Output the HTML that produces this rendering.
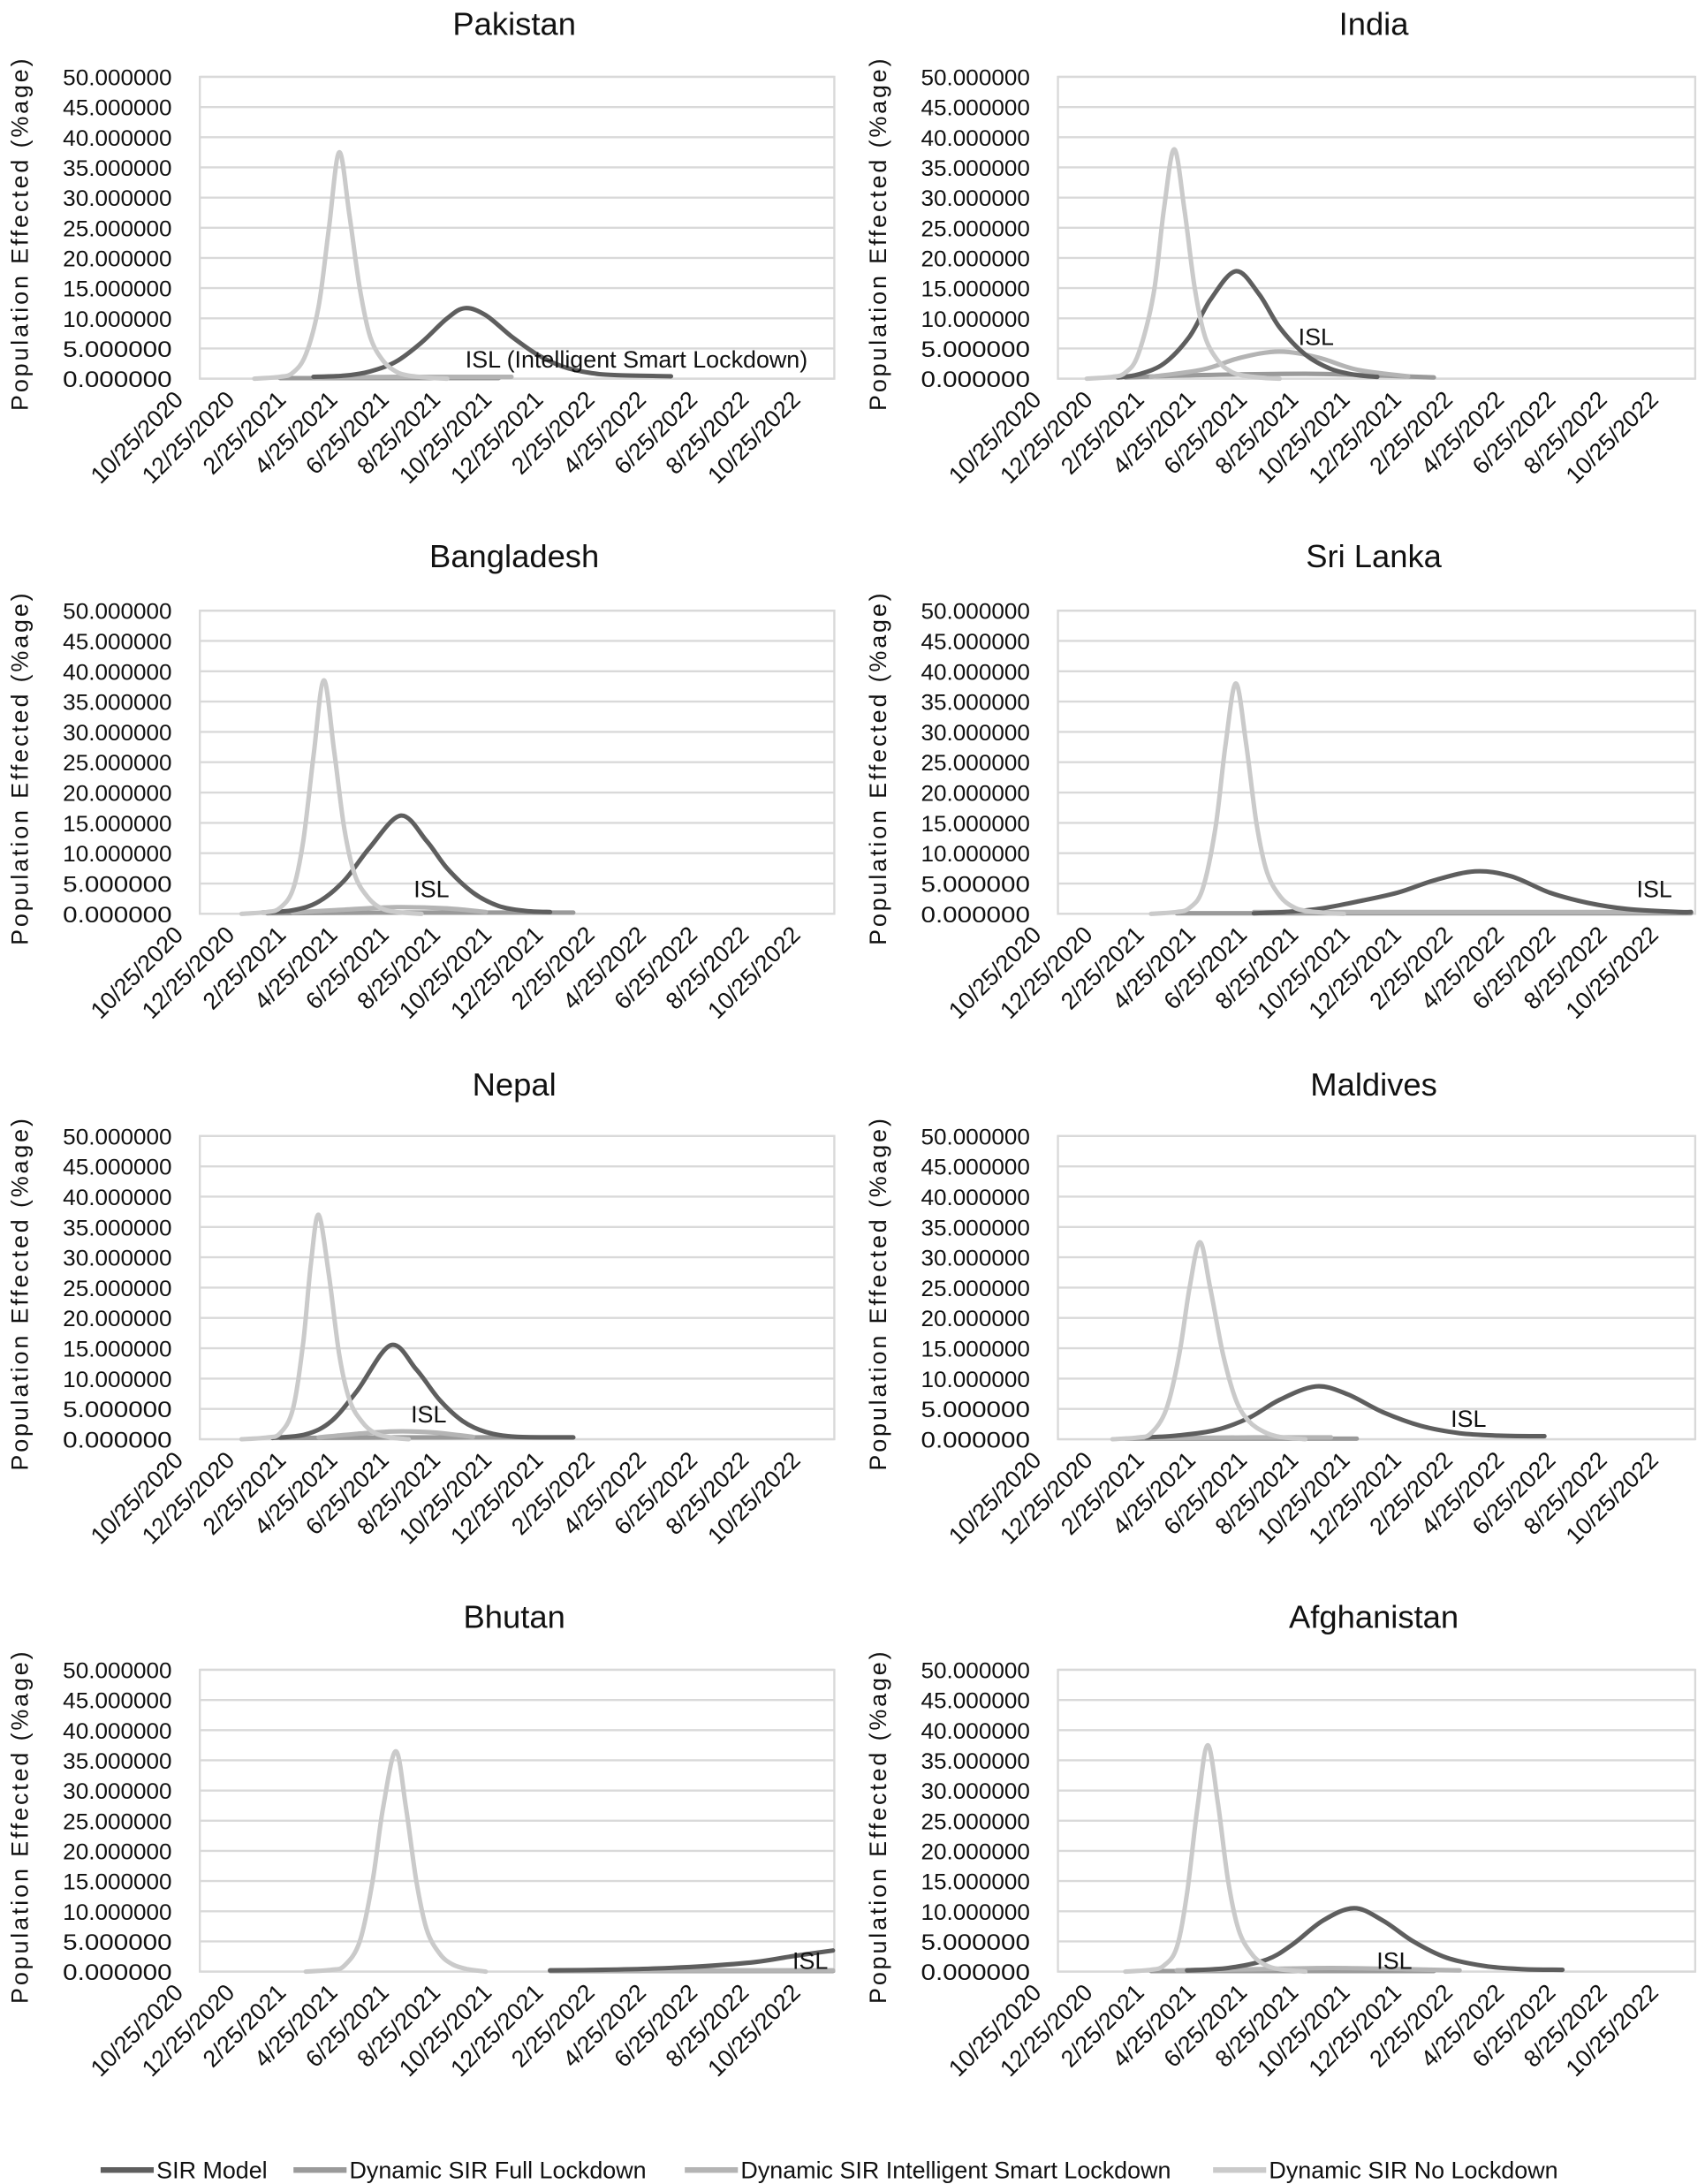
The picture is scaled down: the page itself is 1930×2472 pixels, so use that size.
<!DOCTYPE html>
<html><head><meta charset="utf-8"><style>
html,body{margin:0;padding:0;background:#fff;}
svg{display:block;font-family:"Liberation Sans",Arial,sans-serif;}
</style></head><body>
<svg id="fig" width="1930" height="2472" viewBox="0 0 1220 1563" preserveAspectRatio="none" xmlns="http://www.w3.org/2000/svg"></svg>
<script>
// ---- shared axis data ----
const yTicks = [0,5,10,15,20,25,30,35,40,45,50];
const xTickLabels = ["10/25/2020","12/25/2020","2/25/2021","4/25/2021","6/25/2021","8/25/2021","10/25/2021","12/25/2021","2/25/2022","4/25/2022","6/25/2022","8/25/2022","10/25/2022"];
const xTickMonths = [0,2,4,6,8,10,12,14,16,18,20,22,24];
const seriesNames = ["SIR Model","Dynamic SIR Full Lockdown","Dynamic SIR Intelligent Smart Lockdown","Dynamic SIR No Lockdown"];

// ---- series data: [month since 10/25/2020, % population] ----
const pakistanSIR = [[4.8,0.3],[6,0.5],[7,1.2],[8,2.8],[9,6],[10,10],[10.7,11.7],[11.5,10.5],[12.5,7],[13.5,4],[14.5,2],[15.5,1],[16.5,0.6],[18.7,0.4]];
const pakistanFull = [[3.5,0.1],[8,0.1],[12,0.1]];
const pakistanISL = [[4.8,0.2],[8,0.3],[12.5,0.3]];
const pakistanNoLock = [[2.5,0],[3.5,0.3],[4,1],[4.5,4],[5,12],[5.4,25],[5.8,37.5],[6.2,27],[6.6,15],[7,7],[7.5,3],[8,1.2],[8.5,0.5],[9.5,0.1],[10,0]];

const indiaSIR = [[2.7,0.2],[3.5,0.7],[4.5,2.5],[5.5,7],[6.3,13],[7.3,17.8],[8.2,14],[9,8.5],[10,4],[11,1.6],[12,0.6],[12.8,0.3]];
const indiaFull = [[3,0.2],[6,0.6],[10,0.8],[13,0.5],[15,0.2]];
const indiaISL = [[4,0.3],[6,1.5],[7.5,3.5],[9,4.5],[10.5,3.5],[12,1.5],[14,0.4]];
const indiaNoLock = [[1.5,0],[2.5,0.3],[3,1],[3.5,4],[4.1,14],[4.5,28],[4.9,38],[5.3,28],[5.7,15],[6.1,7],[6.6,3],[7.1,1.2],[7.6,0.5],[8.5,0.1],[9,0]];

const bangladeshSIR = [[2.8,0.2],[4,0.6],[5,2],[6,5.5],[7,11],[8.2,16.2],[9.2,12],[10,7.5],[11,3.5],[12,1.3],[13,0.5],[14,0.3]];
const bangladeshFull = [[3,0.1],[8,0.2],[14.9,0.2]];
const bangladeshISL = [[4,0.2],[6,0.7],[8,1.1],[10,0.9],[11.5,0.3]];
const bangladeshNoLock = [[2,0],[3,0.3],[3.5,1],[4,4],[4.4,12],[4.8,26],[5.2,38.5],[5.6,27],[6,14],[6.4,6.5],[6.9,2.8],[7.4,1],[8,0.3],[9,0]];

const sriLankaSIR = [[8,0.1],[9.2,0.3],[10.5,0.8],[12,2],[13.6,3.5],[15,5.5],[16.6,7],[18,6.2],[19.5,3.5],[21,1.8],[22.5,0.8],[24.5,0.3],[25,0.3]];
const sriLankaFull = [[5,0.1],[12,0.1],[25,0.1]];
const sriLankaISL = [[8,0.3],[16,0.3],[25,0.3]];
const sriLankaNoLock = [[4,0],[5,0.3],[5.5,1],[6,4],[6.5,14],[6.9,28],[7.3,38],[7.7,28],[8.1,15],[8.5,7],[9,3],[9.5,1.2],[10,0.5],[11,0.1],[11.5,0]];

const nepalSIR = [[3.2,0.2],[4.5,0.8],[5.5,3],[6.5,8],[7.8,15.5],[8.8,11.5],[9.7,6.5],[10.6,3],[11.5,1.2],[12.7,0.4],[14.9,0.3]];
const nepalFull = [[3.5,0.2],[8,0.3],[14.9,0.3]];
const nepalISL = [[5,0.3],[6.5,0.9],[8,1.3],[9.5,1.1],[11,0.4]];
const nepalNoLock = [[2,0],[3,0.3],[3.5,1],[4,5],[4.4,16],[4.7,29],[5,37],[5.4,27],[5.8,14],[6.2,6.5],[6.7,2.8],[7.2,1],[7.8,0.3],[8.5,0]];

const maldivesSIR = [[3.8,0.3],[5,0.6],[6.5,1.5],[7.8,3.5],[9,6.5],[10.4,8.7],[11.6,7.5],[13,4.5],[14.5,2.2],[16,1],[17.5,0.6],[19.3,0.5]];
const maldivesFull = [[3,0.1],[8,0.1],[12,0.1]];
const maldivesISL = [[4,0.2],[8,0.3],[11,0.3]];
const maldivesNoLock = [[2.5,0],[3.5,0.3],[4,1],[4.6,5],[5.1,14],[5.5,25],[5.9,32.5],[6.3,25],[6.8,14],[7.3,6.5],[7.8,3],[8.4,1.2],[9,0.4],[10,0]];

const bhutanSIR = [[14,0.2],[16,0.3],[18,0.5],[20,0.9],[22,1.6],[23.5,2.6],[25,3.5]];
const bhutanFull = [[14,0.1],[20,0.1],[25,0.1]];
const bhutanISL = [[14,0.2],[20,0.2],[25,0.2]];
const bhutanNoLock = [[4.5,0],[5.5,0.3],[6,1],[6.6,5],[7.1,15],[7.5,27],[8,36.5],[8.4,27],[8.8,15],[9.2,7],[9.7,3],[10.2,1.2],[10.8,0.4],[11.5,0]];

const afghanistanSIR = [[5.4,0.2],[7,0.6],[8.5,2],[9.5,4.5],[10.7,8.5],[11.9,10.5],[13,8.5],[14.2,5],[15.5,2.3],[17,0.9],[18.5,0.4],[20,0.3]];
const afghanistanFull = [[4,0.1],[10,0.1],[15,0.1]];
const afghanistanISL = [[5,0.2],[8,0.4],[11,0.6],[14,0.4],[16,0.2]];
const afghanistanNoLock = [[3,0],[4,0.3],[4.5,1],[5,4],[5.4,13],[5.8,27],[6.2,37.5],[6.6,28],[7,15],[7.4,7],[7.9,3],[8.4,1.2],[9,0.4],[10,0]];

const panels = [
 {name:"Pakistan",col:0,row:0,s:[pakistanSIR,pakistanFull,pakistanISL,pakistanNoLock],isl:"ISL (Intelligent Smart Lockdown)",islX:333,islDy:-8},
 {name:"India",col:1,row:0,s:[indiaSIR,indiaFull,indiaISL,indiaNoLock],isl:"ISL",islX:929,islDy:-24},
 {name:"Bangladesh",col:0,row:1,s:[bangladeshSIR,bangladeshFull,bangladeshISL,bangladeshNoLock],isl:"ISL",islX:296,islDy:-12},
 {name:"Sri Lanka",col:1,row:1,s:[sriLankaSIR,sriLankaFull,sriLankaISL,sriLankaNoLock],isl:"ISL",islX:1171,islDy:-12},
 {name:"Nepal",col:0,row:2,s:[nepalSIR,nepalFull,nepalISL,nepalNoLock],isl:"ISL",islX:294,islDy:-12},
 {name:"Maldives",col:1,row:2,s:[maldivesSIR,maldivesFull,maldivesISL,maldivesNoLock],isl:"ISL",islX:1038,islDy:-9},
 {name:"Bhutan",col:0,row:3,s:[bhutanSIR,bhutanFull,bhutanISL,bhutanNoLock],isl:"ISL",islX:567,islDy:-2},
 {name:"Afghanistan",col:1,row:3,s:[afghanistanSIR,afghanistanFull,afghanistanISL,afghanistanNoLock],isl:"ISL",islX:985,islDy:-2}
];
const colors = ["#5e5e5e","#9a9a9a","#b4b4b4","#cacaca"];
const rowTop = [55,437,813,1195];
const rowBottom = [271,654,1030,1411];
const colLeft = [143,757];
const colRight = [597,1213];
const titleY = [17,398,776,1157];

const NS = "http://www.w3.org/2000/svg";
const svg = document.getElementById("fig");
function mk(tag, attrs, parent){
  const e = document.createElementNS(NS, tag);
  for (const k in attrs) e.setAttribute(k, attrs[k]);
  (parent||svg).appendChild(e);
  return e;
}
function smoothPath(pts){
  let d = "M" + pts[0][0].toFixed(1) + "," + pts[0][1].toFixed(1);
  for (let i=0;i<pts.length-1;i++){
    const p0 = pts[i-1]||pts[i], p1 = pts[i], p2 = pts[i+1], p3 = pts[i+2]||p2;
    const c1x = p1[0]+(p2[0]-p0[0])/6, c1y = p1[1]+(p2[1]-p0[1])/6;
    const c2x = p2[0]-(p3[0]-p1[0])/6, c2y = p2[1]-(p3[1]-p1[1])/6;
    d += " C"+c1x.toFixed(1)+","+c1y.toFixed(1)+" "+c2x.toFixed(1)+","+c2y.toFixed(1)+" "+p2[0].toFixed(1)+","+p2[1].toFixed(1);
  }
  return d;
}

panels.forEach(p=>{
  const L = colLeft[p.col], R = colRight[p.col], T = rowTop[p.row], B = rowBottom[p.row];
  const slug = p.name.toLowerCase().replace(/\s+/g,"-");
  const g = mk("g",{});
  
  
  const yScale = v => B - (v/50)*(B-T);
  const xScale = m => L - 7 + (m/2)*36.8;

  const t = mk("text",{x:(L+R)/2 - 2, y:titleY[p.row]+8, "text-anchor":"middle","font-size":23,fill:"#111"},g);
  t.textContent = p.name;
  
  

  yTicks.forEach(v=>{
    const y = yScale(v);
    const gl = mk("line",{x1:L,x2:R,y1:y,y2:y,stroke:"#d9d9d9","stroke-width":1.5},g);
    
    
    const tl = mk("text",{x:L-20,y:y+6,"text-anchor":"end","font-size":16,fill:"#111",textLength:78,lengthAdjust:"spacingAndGlyphs"},g);
    tl.textContent = v.toFixed(6);
    
    
  });
  const border = mk("rect",{x:L,y:T,width:R-L,height:B-T,fill:"none",stroke:"#d9d9d9","stroke-width":1.5},g);
  
  

  const yt = mk("text",{transform:"translate("+(L-123)+","+((T+B)/2+5)+") rotate(-90)","text-anchor":"middle","font-size":17,fill:"#111",textLength:252,lengthAdjust:"spacing"},g);
  yt.textContent = "Population  Effected  (%age)";
  
  

  xTickLabels.forEach((lab,i)=>{
    const x = xScale(xTickMonths[i]) - 4, y = B+16;
    const xl = mk("text",{transform:"translate("+x+","+y+") rotate(-45)","text-anchor":"end","font-size":17,fill:"#111"},g);
    xl.textContent = lab;
    
    
  });

  [1,2,0,3].forEach(si=>{
    const pts = p.s[si].map(d=>[xScale(d[0]), yScale(d[1])]);
    const path = mk("path",{d:smoothPath(pts),fill:"none",stroke:colors[si],"stroke-width":3.2,"stroke-linejoin":"round","stroke-linecap":"round"},g);
    
    
  });

  const it = mk("text",{x:p.islX,y:B+p.islDy,"font-size":17,fill:"#111"},g);
  it.textContent = p.isl;
  
  
});

// legend
const legX = [72,210,490,868];
const lg = mk("g",{});


seriesNames.forEach((n,i)=>{
  const ln = mk("line",{x1:legX[i],x2:legX[i]+38,y1:1553,y2:1553,stroke:colors[i],"stroke-width":4},lg);
  
  
  const tx = mk("text",{x:legX[i]+40,y:1559,"font-size":17,fill:"#111"},lg);
  tx.textContent = n;
  
  
});
</script>
</body></html>
